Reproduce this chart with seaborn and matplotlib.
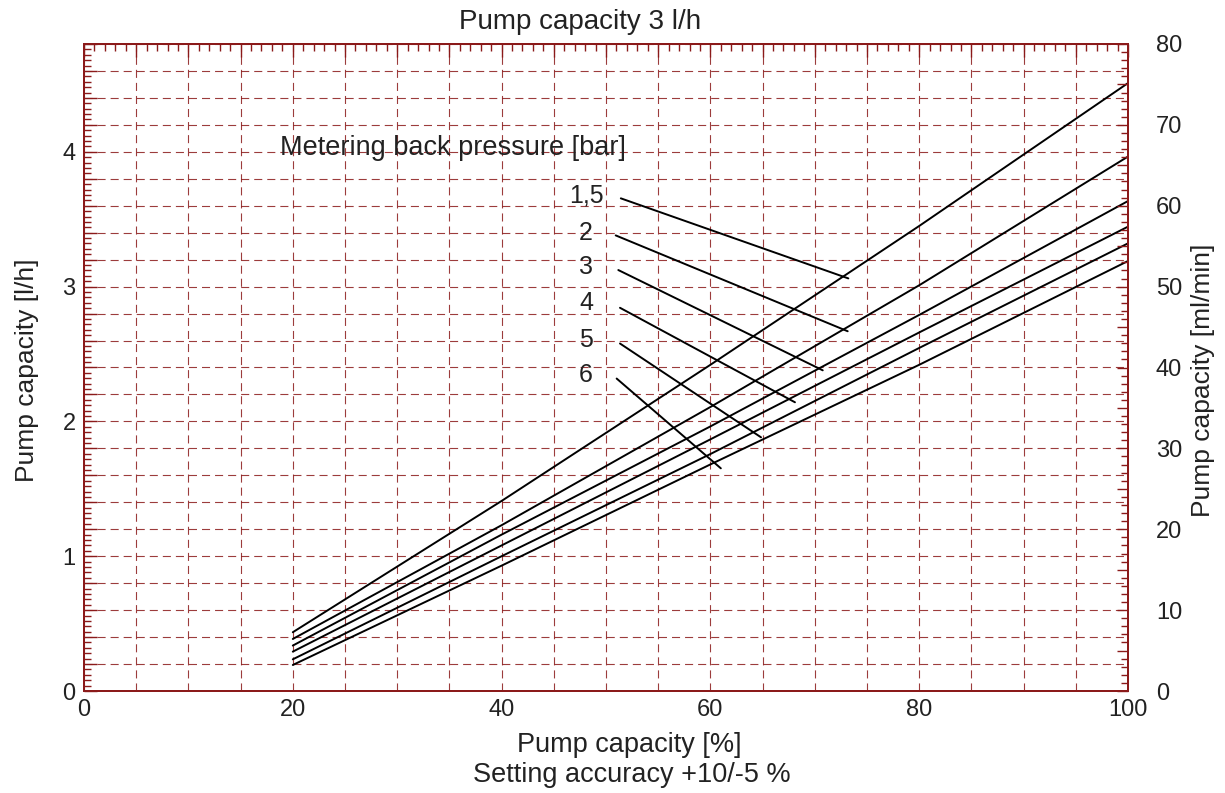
import matplotlib
matplotlib.use("Agg")
import pandas as pd
import matplotlib.pyplot as plt
import seaborn as sns
from matplotlib.ticker import MultipleLocator, FuncFormatter

# Kennlinien: Förderleistung [l/h] über Hubeinstellung [%]
capacity_pct = [20, 40, 60, 80, 100]
flow_1_5 = [0.436, 1.41, 2.42, 3.45, 4.51]
flow_2 = [0.386, 1.23, 2.107, 3.01, 3.965]
flow_3 = [0.337, 1.16, 1.963, 2.79, 3.635]
flow_4 = [0.292, 1.08, 1.867, 2.66, 3.445]
flow_5 = [0.235, 1.00, 1.758, 2.545, 3.321]
flow_6 = [0.193, 0.93, 1.681, 2.42, 3.19]
pressure_labels = ["1,5", "2", "3", "4", "5", "6"]

# Beschriftung der Gegendruck-Linien
label_x = 48.1
label_y = [3.678, 3.40, 3.145, 2.875, 2.607, 2.347]
leader_x0 = [51.42, 50.93, 51.18, 51.34, 51.34, 51.02]
leader_y0 = [3.655, 3.38, 3.123, 2.843, 2.578, 2.318]
leader_x1 = [73.21, 73.15, 70.76, 68.10, 64.85, 61.0]
leader_y1 = [3.061, 2.669, 2.379, 2.142, 1.882, 1.652]

grid_red = "#8b1a1a"
text_col = "#222222"

sns.set_theme(style="white")
plt.rcParams["font.family"] = ["Liberation Sans", "DejaVu Sans"]
plt.rcParams["lines.scale_dashes"] = False

df = pd.DataFrame({
    "capacity": capacity_pct * 6,
    "flow": flow_1_5 + flow_2 + flow_3 + flow_4 + flow_5 + flow_6,
    "pressure": [p for p in pressure_labels for _ in capacity_pct],
})

fig = plt.figure(figsize=(12.25, 7.93), dpi=100)
ax = fig.add_axes([84 / 1225, 1 - 691 / 793, (1128 - 84) / 1225, (691 - 44) / 793])

sns.lineplot(data=df, x="capacity", y="flow", hue="pressure",
             palette=["black"] * 6, legend=False, linewidth=1.4, ax=ax)

for ly, x0, y0, x1, y1, lab in zip(label_y, leader_x0, leader_y0,
                                    leader_x1, leader_y1, pressure_labels):
    ax.plot([x0, x1], [y0, y1], color="black", linewidth=1.4)
    ax.text(label_x, ly, lab, ha="center", va="center", fontsize=18, color=text_col)

ax.text(18.8, 4.03, "Metering back pressure [bar]", ha="left", va="center",
        fontsize=19.5, color=text_col)

ax.set_xlim(0, 100)
ax.set_ylim(0, 4.8)
ax.set_xlabel("")
ax.set_ylabel("")

ax.xaxis.set_major_locator(MultipleLocator(5))
ax.xaxis.set_minor_locator(MultipleLocator(1))
ax.yaxis.set_major_locator(MultipleLocator(0.2))
ax.yaxis.set_minor_locator(MultipleLocator(0.04))
ax.xaxis.set_major_formatter(FuncFormatter(lambda v, p: f"{v:.0f}" if round(v) % 20 == 0 else ""))
ax.yaxis.set_major_formatter(FuncFormatter(lambda v, p: f"{v:.0f}" if abs(v - round(v)) < 1e-6 else ""))

ax.grid(True, which="major", color=grid_red, linestyle=(0, (5.8, 3.6)), linewidth=0.8, alpha=0.85)
ax.tick_params(which="both", direction="in", top=True, right=False, colors=grid_red,
               labelcolor=text_col, labelsize=17)
ax.tick_params(which="major", length=9, width=1, pad=6)
ax.tick_params(which="minor", length=5, width=1)
for s in ax.spines.values():
    s.set_color(grid_red)
    s.set_linewidth(1.4)

ax2 = ax.twinx()
ax2.set_ylim(0, 80)
ax2.yaxis.set_major_locator(MultipleLocator(5))
ax2.yaxis.set_minor_locator(MultipleLocator(1))
ax2.yaxis.set_major_formatter(FuncFormatter(lambda v, p: f"{v:.0f}" if round(v) % 10 == 0 else ""))
ax2.tick_params(which="both", direction="in", colors=grid_red, labelcolor=text_col,
                labelsize=17)
ax2.tick_params(which="major", length=8, width=1, pad=20)
ax2.tick_params(which="minor", length=5, width=1)
for s in ax2.spines.values():
    s.set_color(grid_red)
    s.set_linewidth(1.4)

fig.text(580 / 1225, 1 - 22 / 793, "Pump capacity 3 l/h", ha="center", va="center",
         fontsize=20, color=text_col)
fig.text(629 / 1225, 1 - 745 / 793, "Pump capacity [%]", ha="center", va="center",
         fontsize=19.5, color=text_col)
fig.text(632 / 1225, 1 - 775 / 793, "Setting accuracy +10/-5 %", ha="center", va="center",
         fontsize=19.5, color=text_col)
fig.text(27 / 1225, 1 - 370 / 793, "Pump capacity [l/h]", ha="center", va="center",
         rotation=90, fontsize=19, color=text_col)
fig.text(1203 / 1225, 1 - 380 / 793, "Pump capacity [ml/min]", ha="center", va="center",
         rotation=90, fontsize=19, color=text_col)

fig.savefig("out.png", dpi=100)
